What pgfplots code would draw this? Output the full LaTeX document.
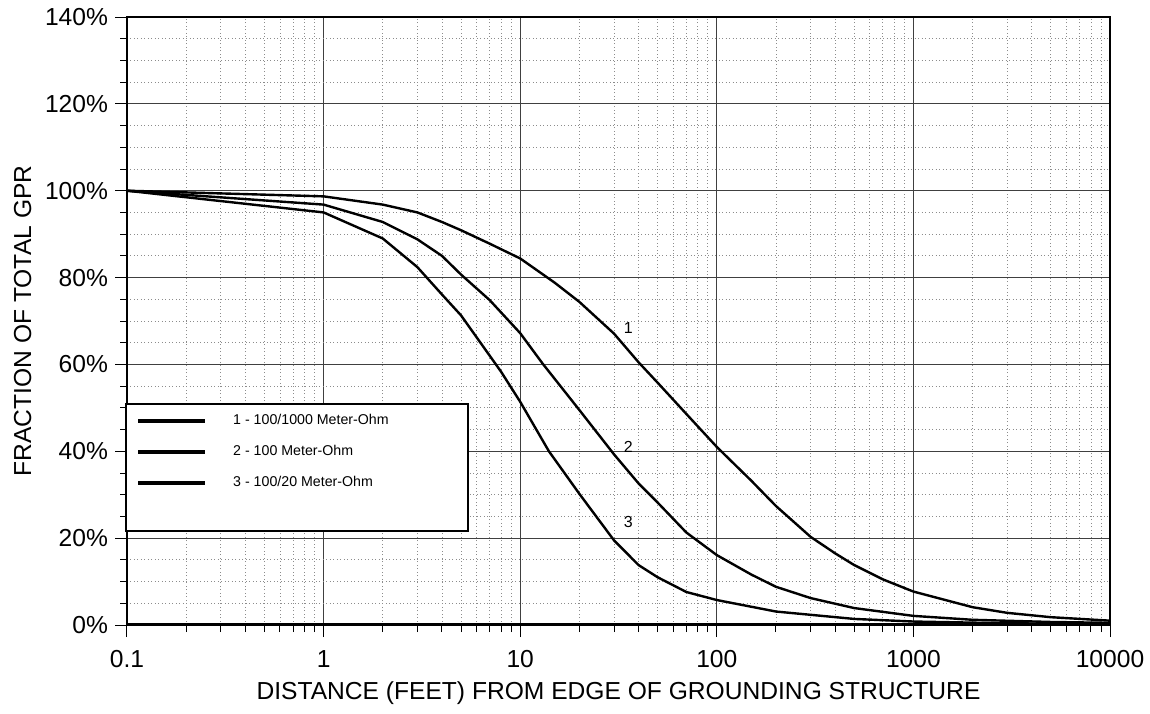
\documentclass[border=0pt]{standalone}
\usepackage{fontspec}
\setmainfont{Liberation Sans}
\usepackage{pgfplots}
\pgfplotsset{compat=1.18}
\begin{document}
\begin{tikzpicture}
\begin{axis}[
  at={(0,0)}, anchor=south west,
  scale only axis, width=491.5pt, height=304pt,
  xmode=log, xmin=0.1, xmax=10000, ymin=0, ymax=140,
  xtick={0.1,1,10,100,1000,10000},
  xticklabels={0.1,1,10,100,1000,10000},
  minor xtick={0.2,0.3,0.4,0.5,0.6,0.7,0.8,0.9,2,3,4,5,6,7,8,9,20,30,40,50,60,70,80,90,200,300,400,500,600,700,800,900,2000,3000,4000,5000,6000,7000,8000,9000},
  ytick={0,20,40,60,80,100,120,140},
  yticklabels={0\%,20\%,40\%,60\%,80\%,100\%,120\%,140\%},
  minor ytick={5,10,15,25,30,35,45,50,55,65,70,75,85,90,95,105,110,115,125,130,135},
  grid=both,
  major grid style={line width=0.55pt, draw=black!75},
  minor grid style={line width=0.45pt, draw=black!45, dash pattern=on 0.45pt off 1.3pt},
  tick align=outside, tick pos=left,
  major tick length=6pt, minor tick length=3.5pt,
  every tick/.style={black, line width=0.5pt},
  axis line style={line width=1pt},
  ticklabel style={font=\fontsize{12.3}{14}\selectfont},
  xticklabel style={yshift=-3pt},
  label style={font=\fontsize{12.3}{14}\selectfont},
  xlabel={DISTANCE (FEET) FROM EDGE OF GROUNDING STRUCTURE},
  ylabel={FRACTION OF TOTAL GPR},
  legend style={at={(rel axis cs:-0.002,0.365)}, anchor=north west, draw=black, line width=1pt,
    font=\fontsize{7.1}{8.5}\selectfont, row sep=5pt, column sep=11pt, inner xsep=5pt, inner ysep=3pt},
  legend cell align=left,
  legend image code/.code={\draw[line width=2.1pt] (0pt,0pt) -- (33.5pt,0pt);},
]
\addplot[black, line width=1.2pt] coordinates {(0.1,100) (1,98.7) (2,96.8) (3,95.0) (4,92.8) (5,90.9) (7,87.8) (10,84.4) (15,78.8) (20,74.4) (30,67.1) (40,60.5) (50,55.8) (70,48.6) (100,41.0) (150,33.2) (200,27.4) (300,20.3) (400,16.5) (500,13.8) (700,10.5) (1000,7.7) (2000,4.1) (3000,2.8) (5000,1.8) (10000,1.0)};
\addlegendentry{\makebox[110.5pt][l]{1 - 100/1000 Meter-Ohm}}
\addplot[black, line width=1.2pt] coordinates {(0.1,100) (1,96.8) (2,92.8) (3,88.8) (4,85.0) (5,80.7) (7,74.8) (10,67.2) (13,60.2) (20,49.5) (30,39.3) (40,32.6) (50,28.2) (70,21.3) (100,16.1) (150,11.6) (200,8.8) (300,6.2) (500,3.9) (1000,2.1) (2000,1.2) (5000,0.7) (10000,0.5)};
\addlegendentry{2 - 100 Meter-Ohm}
\addplot[black, line width=1.2pt] coordinates {(0.1,100) (1,95.0) (2,89.0) (3,82.4) (4,76.1) (5,71.3) (7,62.0) (8,58.3) (10,51.4) (14,40.0) (20,30.2) (30,19.5) (40,13.8) (50,11.0) (70,7.6) (100,5.75) (200,3.1) (500,1.4) (1000,0.8) (3000,0.4) (10000,0.2)};
\addlegendentry{3 - 100/20 Meter-Ohm}
\addlegendimage{empty legend}
\addlegendentry{\vphantom{1}}
\draw[line width=1.7pt] (rel axis cs:0,0) -- (rel axis cs:1,0);
\node[font=\fontsize{8}{9}\selectfont] at (axis cs:35.5,68.4) {1};
\node[font=\fontsize{8}{9}\selectfont] at (axis cs:35.5,41.0) {2};
\node[font=\fontsize{8}{9}\selectfont] at (axis cs:35.5,23.7) {3};
\end{axis}
\pgfresetboundingbox
\path[use as bounding box] (-63.5pt,-44pt) rectangle (511.5pt,312.5pt);
\end{tikzpicture}
\end{document}
